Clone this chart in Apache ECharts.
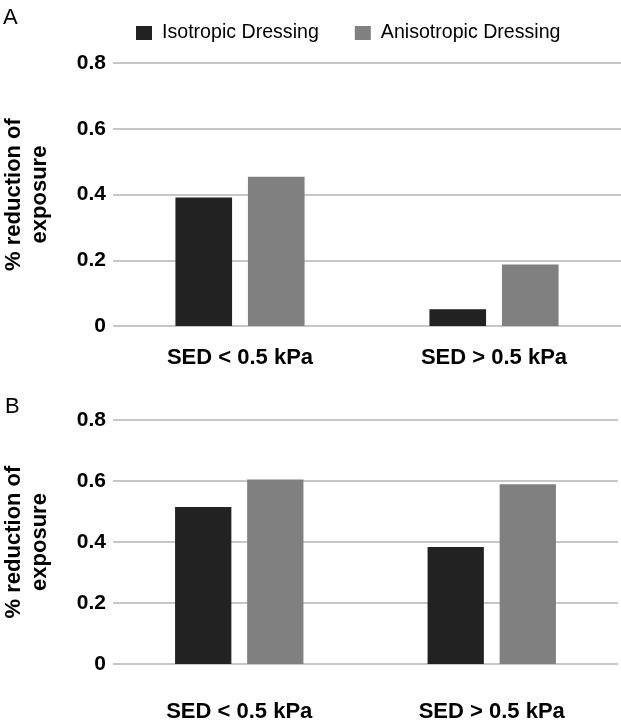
<!DOCTYPE html>
<html>
<head>
<meta charset="utf-8">
<script src="https://cdn.jsdelivr.net/npm/echarts@6/dist/echarts.min.js"></script>
<style>
html,body{margin:0;padding:0;background:#fff;}
#chart{width:621px;height:722px;}
</style>
</head>
<body>
<div id="chart"></div>
<script>
const categories = ['SED < 0.5 kPa', 'SED > 0.5 kPa'];
const seriesNames = ['Isotropic Dressing', 'Anisotropic Dressing'];
const panelA_isotropic = [0.391, 0.051];
const panelA_anisotropic = [0.454, 0.187];
const panelB_isotropic = [0.515, 0.384];
const panelB_anisotropic = [0.605, 0.589];
const yTicks = [0, 0.2, 0.4, 0.6, 0.8];
const panelLetters = ['A', 'B'];
const yAxisTitle = '% reduction of\nexposure';

const FONT = '"Liberation Sans", Arial, Helvetica, sans-serif';
const DARK = '#222222';
const GRAY = '#808080';

function yAxisFor(gridIndex) {
  return {
    type: 'value', gridIndex: gridIndex,
    min: yTicks[0], max: yTicks[yTicks.length - 1], interval: 0.2,
    name: yAxisTitle, nameLocation: 'middle', nameGap: 60,
    nameTextStyle: { fontFamily: FONT, fontSize: 22, fontWeight: 'bold', color: '#000', lineHeight: 26 },
    axisLine: { show: false }, axisTick: { show: false },
    axisLabel: { fontFamily: FONT, fontSize: 21, fontWeight: 'bold', color: '#000', margin: 7,
      formatter: v => (v === 0 ? '0' : v.toFixed(1)) },
    splitLine: { show: true, lineStyle: { color: '#b4b4b4', width: 1.5 } }
  };
}
function xAxisFor(gridIndex, margin) {
  return {
    type: 'category', gridIndex: gridIndex, data: categories,
    axisLine: { show: false }, axisTick: { show: false },
    axisLabel: { fontFamily: FONT, fontSize: 22, fontWeight: 'bold', color: '#000', margin: margin }
  };
}
function bar(name, data, idx, color) {
  return {
    type: 'bar', name: name, data: data, xAxisIndex: idx, yAxisIndex: idx,
    barWidth: '22.3%', barGap: '28%', itemStyle: { color: color }, silent: true
  };
}

const chart = echarts.init(document.getElementById('chart'), null, { renderer: 'canvas' });
chart.setOption({
  animation: false,
  backgroundColor: '#fff',
  title: [
    { text: panelLetters[0], left: -2, top: 2, textStyle: { fontFamily: FONT, fontSize: 22, fontWeight: 'normal', color: '#000' } },
    { text: panelLetters[1], left: 0, top: 391, textStyle: { fontFamily: FONT, fontSize: 22, fontWeight: 'normal', color: '#000' } }
  ],
  legend: {
    left: 131, top: 18, itemWidth: 16, itemHeight: 14, itemGap: 36, icon: 'rect',
    data: seriesNames,
    textStyle: { fontFamily: FONT, fontSize: 19.6, color: '#000', padding: [0, 0, 0, 5], lineHeight: 20 }
  },
  grid: [
    { left: 113, right: 0, top: 63, height: 263, containLabel: false, outerBoundsMode: 'none' },
    { left: 113, right: 3, top: 420, height: 244, containLabel: false, outerBoundsMode: 'none' }
  ],
  xAxis: [xAxisFor(0, 21), xAxisFor(1, 37)],
  yAxis: [yAxisFor(0), yAxisFor(1)],
  series: [
    bar(seriesNames[0], panelA_isotropic, 0, DARK),
    bar(seriesNames[1], panelA_anisotropic, 0, GRAY),
    bar(seriesNames[0], panelB_isotropic, 1, DARK),
    bar(seriesNames[1], panelB_anisotropic, 1, GRAY)
  ]
});
</script>
</body>
</html>
